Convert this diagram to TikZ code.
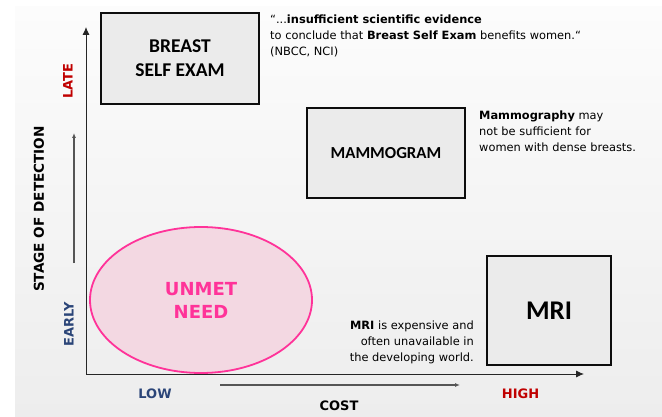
\documentclass[tikz,border=0pt]{standalone}
\usepackage{fontspec}
\setmainfont{DejaVu Sans}
\newfontfamily\headfont{Carlito}
\usetikzlibrary{arrows.meta,shapes.geometric}
\definecolor{panelTop}{HTML}{FCFCFC}
\definecolor{panelBot}{HTML}{EDEDED}
\definecolor{boxFill}{HTML}{EBEBEB}
\definecolor{lateRed}{HTML}{C00000}
\definecolor{earlyBlue}{HTML}{2B4578}
\definecolor{needPink}{HTML}{FF3399}
\definecolor{needFill}{HTML}{F3D8E2}
\definecolor{hintGray}{HTML}{555555}
\tikzset{
  method/.style={draw=black!95, line width=1.6pt, fill=boxFill, inner sep=0pt,
    align=center, font=\headfont\bfseries\fontsize{19.5}{24}\selectfont},
  axis/.style={draw=black!85, line width=0.9pt, -{Latex[length=8pt,width=7pt]}},
  hint/.style={draw=hintGray, line width=1.2pt, -{Latex[length=5pt,width=4pt]}},
  tick/.style={font=\bfseries\fontsize{13}{15}\selectfont, inner sep=0pt},
  note/.style={inner sep=0pt, font=\fontsize{11.4}{15.8}\selectfont}
}
\begin{document}
\begin{tikzpicture}[x=1pt,y=-1pt]
\useasboundingbox (0,0) rectangle (662,417);
% slide panel
\shade[top color=panelTop, bottom color=panelBot] (15,7) rectangle (662,417);

% axes
\coordinate (origin) at (86,374);
\coordinate (ytip) at (86,27);
\coordinate (xtip) at (584,374);
\draw[axis] (origin) -- (ytip);
\draw[axis] (origin) -- (xtip);

% direction hints
\coordinate (vfrom) at (74,263);
\coordinate (vto) at (74,133);
\coordinate (hfrom) at (220,385);
\coordinate (hto) at (460,385);
\draw[hint] (vfrom) -- (vto);
\draw[hint] (hfrom) -- (hto);

% screening methods
\node[method, minimum width=158pt, minimum height=91pt] (bse) at (180,58.5) {BREAST\\SELF EXAM};
\node[method, minimum width=158pt, minimum height=90pt,
      font=\headfont\bfseries\fontsize{16.8}{20}\selectfont] (mammo) at (386,153) {MAMMOGRAM};
\node[method, minimum width=124pt, minimum height=109pt,
      font=\headfont\bfseries\fontsize{27}{30}\selectfont] (mri) at (549,310.5) {MRI};

% unmet need
\node[ellipse, draw=needPink, line width=1.8pt, fill=needFill, minimum width=222pt,
      minimum height=146pt, inner sep=0pt, align=center, text=needPink,
      font=\bfseries\fontsize{18}{23}\selectfont] (need) at (201,300) {UNMET\\NEED};

% axis labels
\node[tick, rotate=90, text=lateRed] (late) at (68,81) {LATE};
\node[tick, rotate=90, text=earlyBlue] (early) at (69,324) {EARLY};
\node[tick, rotate=90, font=\bfseries\fontsize{13.6}{15}\selectfont] (stage) at (39,209) {STAGE OF DETECTION};
\node[tick, text=earlyBlue] (low) at (155,394) {LOW};
\node[tick, text=lateRed] (high) at (520.5,394) {HIGH};
\node[tick] (cost) at (339,406) {COST};

% notes
\node[note, anchor=north west, align=left] (quote) at (270,15)
  {“...\textbf{insufficient scientific evidence}\\
   to conclude that \textbf{Breast Self Exam} benefits women.“\\
   (NBCC, NCI)};
\node[note, anchor=north west, align=left] (mnote) at (479,111)
  {\textbf{Mammography} may\\not be sufficient for\\women with dense breasts.};
\node[note, anchor=north east, align=right] (rnote) at (474,321)
  {\textbf{MRI} is expensive and\\often unavailable in\\the developing world.};
\end{tikzpicture}
\end{document}
